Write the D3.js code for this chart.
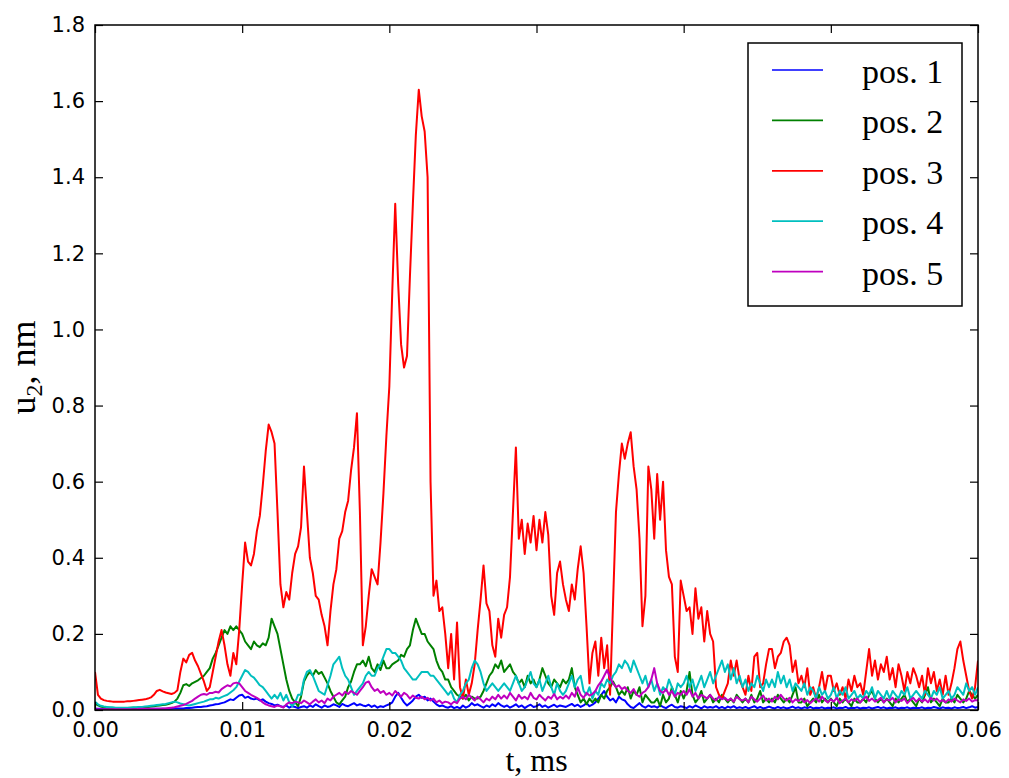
<!DOCTYPE html>
<html>
<head>
<meta charset="utf-8">
<script src="https://cdn.jsdelivr.net/npm/d3@7"></script>
<style>
  html, body { margin: 0; padding: 0; background: #fff; }
  svg { display: block; }
</style>
</head>
<body>
<svg id="chart" width="1009" height="778"></svg>
<script>
// sampling interval of the time axis (ms) – each series value i is at t = i * tStep
const tStep = 0.0002;
const xTicks = [0.00, 0.01, 0.02, 0.03, 0.04, 0.05, 0.06];
const yTicks = [0.0, 0.2, 0.4, 0.6, 0.8, 1.0, 1.2, 1.4, 1.6, 1.8];
const seriesNames = ["pos. 1", "pos. 2", "pos. 3", "pos. 4", "pos. 5"];
const seriesColors = ["#0000ff", "#008000", "#ff0000", "#00bfbf", "#bf00bf"];

const pos1 = [
0.003,0.003,0.003,0.003,0.003,0.003,0.003,0.003,0.003,0.003,
0.003,0.003,0.003,0.003,0.003,0.003,0.003,0.003,0.003,0.003,
0.003,0.003,0.003,0.003,0.003,0.003,0.003,0.004,0.004,0.004,
0.004,0.005,0.005,0.006,0.007,0.008,0.008,0.009,0.010,0.012,
0.013,0.015,0.016,0.018,0.020,0.024,0.028,0.026,0.032,0.038,
0.040,0.032,0.035,0.030,0.028,0.030,0.025,0.028,0.022,0.018,
0.016,0.012,0.014,0.010,0.008,0.012,0.006,0.010,0.008,0.005,
0.008,0.010,0.006,0.012,0.008,0.015,0.010,0.006,0.012,0.008,
0.010,0.015,0.012,0.008,0.016,0.012,0.010,0.014,0.018,0.012,
0.015,0.012,0.010,0.014,0.008,0.012,0.006,0.010,0.008,0.012,
0.015,0.020,0.035,0.045,0.032,0.020,0.012,0.018,0.025,0.035,
0.040,0.032,0.035,0.025,0.030,0.022,0.015,0.010,0.012,0.008,
0.006,0.010,0.005,0.008,0.004,0.012,0.006,0.010,0.018,0.012,
0.015,0.010,0.006,0.012,0.008,0.015,0.010,0.018,0.012,0.008,
0.012,0.006,0.010,0.015,0.008,0.012,0.005,0.010,0.014,0.008,
0.010,0.015,0.008,0.012,0.006,0.010,0.014,0.008,0.012,0.010,
0.008,0.012,0.016,0.010,0.014,0.008,0.012,0.018,0.010,0.014,
0.020,0.030,0.040,0.050,0.035,0.025,0.030,0.020,0.035,0.028,
0.025,0.015,0.008,0.005,0.012,0.018,0.010,0.006,0.012,0.008,
0.010,0.006,0.012,0.008,0.005,0.010,0.014,0.008,0.006,0.010,
0.008,0.005,0.010,0.006,0.012,0.008,0.004,0.010,0.006,0.008,
0.006,0.010,0.005,0.008,0.004,0.009,0.006,0.010,0.005,0.007,
0.005,0.008,0.004,0.007,0.010,0.005,0.008,0.004,0.006,0.009,
0.006,0.004,0.008,0.005,0.007,0.004,0.006,0.009,0.005,0.007,
0.004,0.007,0.005,0.008,0.004,0.006,0.005,0.007,0.004,0.006,
0.005,0.007,0.004,0.006,0.005,0.008,0.004,0.006,0.005,0.007,
0.004,0.006,0.005,0.007,0.004,0.006,0.008,0.005,0.007,0.004,
0.006,0.005,0.007,0.004,0.006,0.005,0.007,0.004,0.006,0.005,
0.005,0.007,0.004,0.006,0.005,0.008,0.006,0.004,0.007,0.005,
0.006,0.004,0.007,0.005,0.006,0.008,0.005,0.007,0.010,0.006,
0.008];

const pos2 = [
0.018,0.012,0.009,0.007,0.006,0.006,0.005,0.005,0.005,0.005,
0.005,0.005,0.006,0.006,0.006,0.007,0.007,0.008,0.008,0.009,
0.010,0.011,0.012,0.013,0.014,0.016,0.018,0.022,0.030,0.045,
0.065,0.068,0.063,0.070,0.074,0.078,0.084,0.090,0.100,0.110,
0.135,0.150,0.170,0.190,0.210,0.200,0.220,0.210,0.220,0.210,
0.200,0.180,0.170,0.160,0.180,0.170,0.165,0.175,0.170,0.190,
0.240,0.220,0.200,0.160,0.120,0.080,0.050,0.030,0.020,0.010,
0.035,0.075,0.090,0.100,0.090,0.105,0.095,0.100,0.085,0.070,
0.050,0.035,0.020,0.015,0.025,0.035,0.060,0.075,0.100,0.120,
0.120,0.130,0.115,0.140,0.110,0.100,0.120,0.105,0.130,0.110,
0.110,0.120,0.125,0.130,0.145,0.140,0.160,0.170,0.210,0.240,
0.220,0.200,0.200,0.180,0.170,0.160,0.130,0.110,0.100,0.080,
0.080,0.060,0.050,0.040,0.035,0.030,0.040,0.025,0.035,0.030,
0.030,0.035,0.050,0.070,0.090,0.100,0.120,0.110,0.130,0.100,
0.110,0.120,0.100,0.090,0.070,0.080,0.060,0.090,0.070,0.080,
0.060,0.080,0.110,0.090,0.070,0.060,0.080,0.070,0.060,0.080,
0.070,0.080,0.110,0.060,0.040,0.020,0.030,0.015,0.030,0.020,
0.030,0.020,0.040,0.030,0.050,0.060,0.075,0.060,0.040,0.050,
0.040,0.060,0.030,0.050,0.040,0.060,0.020,0.040,0.030,0.020,
0.020,0.030,0.010,0.040,0.020,0.030,0.060,0.040,0.020,0.050,
0.030,0.050,0.100,0.040,0.020,0.030,0.050,0.020,0.030,0.040,
0.020,0.030,0.020,0.040,0.030,0.020,0.030,0.020,0.040,0.030,
0.020,0.030,0.020,0.040,0.020,0.030,0.050,0.020,0.030,0.020,
0.030,0.020,0.040,0.030,0.020,0.030,0.020,0.040,0.060,0.020,
0.020,0.030,0.010,0.020,0.030,0.020,0.040,0.020,0.030,0.020,
0.030,0.020,0.010,0.030,0.020,0.030,0.020,0.010,0.030,0.020,
0.020,0.030,0.020,0.040,0.050,0.030,0.020,0.030,0.020,0.030,
0.020,0.010,0.030,0.020,0.030,0.040,0.020,0.030,0.020,0.010,
0.030,0.020,0.040,0.060,0.020,0.030,0.020,0.010,0.030,0.020,
0.020,0.030,0.020,0.040,0.030,0.020,0.030,0.050,0.040,0.030,
0.040];

const pos3 = [
0.100,0.040,0.030,0.026,0.024,0.023,0.022,0.022,0.022,0.022,
0.022,0.023,0.023,0.024,0.025,0.026,0.027,0.028,0.030,0.033,
0.040,0.050,0.053,0.049,0.046,0.044,0.042,0.045,0.052,0.100,
0.135,0.125,0.145,0.150,0.130,0.115,0.095,0.075,0.050,0.060,
0.100,0.140,0.180,0.210,0.170,0.120,0.090,0.150,0.120,0.210,
0.330,0.440,0.390,0.380,0.410,0.470,0.510,0.590,0.680,0.750,
0.730,0.700,0.520,0.330,0.270,0.310,0.290,0.360,0.410,0.430,
0.480,0.640,0.520,0.400,0.360,0.300,0.290,0.250,0.220,0.170,
0.260,0.330,0.370,0.450,0.470,0.520,0.550,0.630,0.690,0.780,
0.520,0.170,0.220,0.300,0.370,0.350,0.330,0.440,0.570,0.720,
0.850,1.100,1.330,1.120,0.960,0.900,0.930,1.140,1.330,1.510,
1.630,1.560,1.520,1.400,0.600,0.300,0.340,0.260,0.270,0.200,
0.110,0.200,0.080,0.230,0.060,0.030,0.080,0.040,0.070,0.120,
0.210,0.290,0.380,0.280,0.260,0.170,0.140,0.240,0.190,0.250,
0.270,0.350,0.520,0.690,0.450,0.500,0.410,0.490,0.440,0.510,
0.420,0.500,0.440,0.520,0.460,0.300,0.250,0.360,0.390,0.330,
0.290,0.260,0.330,0.290,0.370,0.430,0.360,0.220,0.070,0.150,
0.180,0.090,0.190,0.110,0.170,0.040,0.280,0.520,0.620,0.700,
0.660,0.700,0.730,0.640,0.580,0.450,0.220,0.300,0.640,0.580,
0.450,0.620,0.500,0.600,0.420,0.350,0.330,0.140,0.100,0.340,
0.300,0.260,0.270,0.200,0.320,0.240,0.270,0.180,0.260,0.200,
0.180,0.060,0.040,0.030,0.050,0.070,0.130,0.090,0.130,0.080,
0.060,0.040,0.090,0.050,0.140,0.150,0.060,0.070,0.120,0.160,
0.160,0.110,0.140,0.150,0.180,0.190,0.170,0.100,0.130,0.070,
0.090,0.060,0.110,0.040,0.060,0.030,0.060,0.100,0.050,0.090,
0.090,0.050,0.070,0.040,0.060,0.030,0.080,0.050,0.090,0.060,
0.070,0.040,0.100,0.160,0.090,0.130,0.080,0.120,0.100,0.140,
0.080,0.110,0.060,0.120,0.090,0.050,0.100,0.070,0.110,0.090,
0.060,0.090,0.040,0.110,0.070,0.100,0.050,0.080,0.040,0.090,
0.040,0.070,0.110,0.160,0.180,0.130,0.090,0.050,0.030,0.060,
0.130];

const pos4 = [
0.022,0.015,0.011,0.009,0.008,0.007,0.007,0.006,0.006,0.006,
0.006,0.006,0.006,0.007,0.007,0.008,0.008,0.009,0.010,0.011,
0.012,0.013,0.014,0.015,0.016,0.018,0.020,0.022,0.020,0.017,
0.015,0.013,0.012,0.014,0.016,0.018,0.020,0.022,0.025,0.028,
0.028,0.032,0.030,0.034,0.037,0.040,0.046,0.052,0.060,0.075,
0.090,0.105,0.100,0.090,0.085,0.075,0.065,0.060,0.050,0.040,
0.030,0.040,0.030,0.045,0.025,0.040,0.020,0.010,0.020,0.040,
0.040,0.080,0.100,0.105,0.090,0.070,0.050,0.045,0.040,0.065,
0.090,0.120,0.130,0.140,0.110,0.090,0.080,0.060,0.040,0.050,
0.060,0.070,0.090,0.100,0.090,0.090,0.110,0.120,0.140,0.160,
0.160,0.150,0.150,0.140,0.130,0.110,0.100,0.090,0.080,0.080,
0.090,0.100,0.100,0.100,0.090,0.090,0.080,0.070,0.060,0.050,
0.040,0.050,0.030,0.020,0.040,0.050,0.070,0.080,0.110,0.130,
0.120,0.100,0.070,0.050,0.060,0.070,0.060,0.050,0.060,0.070,
0.060,0.050,0.070,0.090,0.070,0.050,0.060,0.080,0.100,0.070,
0.060,0.080,0.050,0.070,0.090,0.060,0.040,0.070,0.050,0.040,
0.050,0.070,0.090,0.060,0.080,0.090,0.050,0.040,0.060,0.030,
0.050,0.040,0.070,0.060,0.080,0.070,0.090,0.100,0.120,0.110,
0.130,0.120,0.100,0.130,0.110,0.090,0.070,0.090,0.060,0.080,
0.050,0.070,0.040,0.060,0.050,0.080,0.060,0.040,0.070,0.060,
0.070,0.090,0.060,0.080,0.050,0.070,0.090,0.060,0.080,0.100,
0.070,0.090,0.110,0.130,0.100,0.120,0.080,0.110,0.070,0.090,
0.060,0.080,0.050,0.070,0.060,0.090,0.070,0.050,0.080,0.060,
0.080,0.060,0.100,0.070,0.090,0.060,0.080,0.050,0.070,0.060,
0.050,0.070,0.040,0.060,0.050,0.030,0.060,0.040,0.050,0.030,
0.040,0.060,0.030,0.050,0.040,0.060,0.030,0.040,0.050,0.030,
0.040,0.030,0.050,0.040,0.060,0.030,0.050,0.040,0.030,0.050,
0.030,0.050,0.040,0.030,0.050,0.040,0.060,0.030,0.040,0.050,
0.040,0.030,0.050,0.040,0.030,0.050,0.040,0.060,0.030,0.040,
0.050,0.030,0.040,0.060,0.050,0.040,0.070,0.050,0.060,0.040,
0.060];

const pos5 = [
0.002,0.002,0.002,0.002,0.002,0.002,0.002,0.002,0.002,0.002,
0.002,0.002,0.002,0.002,0.002,0.003,0.003,0.003,0.003,0.003,
0.003,0.003,0.003,0.004,0.004,0.005,0.006,0.007,0.009,0.011,
0.013,0.016,0.020,0.024,0.030,0.035,0.040,0.042,0.040,0.045,
0.045,0.048,0.046,0.055,0.060,0.065,0.062,0.070,0.072,0.070,
0.060,0.050,0.045,0.040,0.036,0.032,0.027,0.020,0.015,0.012,
0.010,0.008,0.012,0.010,0.006,0.015,0.020,0.018,0.022,0.020,
0.018,0.025,0.020,0.015,0.022,0.028,0.020,0.025,0.018,0.030,
0.025,0.035,0.040,0.045,0.038,0.048,0.042,0.050,0.045,0.040,
0.050,0.060,0.072,0.075,0.060,0.050,0.055,0.045,0.050,0.040,
0.045,0.038,0.050,0.042,0.035,0.045,0.040,0.030,0.038,0.032,
0.030,0.035,0.028,0.032,0.025,0.030,0.020,0.025,0.018,0.022,
0.020,0.015,0.022,0.018,0.030,0.035,0.028,0.040,0.032,0.025,
0.035,0.028,0.020,0.030,0.025,0.035,0.028,0.040,0.030,0.038,
0.030,0.045,0.035,0.025,0.040,0.030,0.035,0.028,0.045,0.032,
0.028,0.040,0.032,0.025,0.035,0.030,0.042,0.028,0.035,0.030,
0.038,0.030,0.045,0.035,0.060,0.040,0.032,0.045,0.038,0.042,
0.050,0.065,0.075,0.090,0.105,0.085,0.070,0.060,0.065,0.055,
0.060,0.050,0.045,0.055,0.040,0.035,0.045,0.050,0.060,0.080,
0.110,0.070,0.050,0.045,0.055,0.040,0.050,0.035,0.045,0.040,
0.050,0.040,0.055,0.035,0.045,0.030,0.040,0.035,0.030,0.040,
0.030,0.025,0.035,0.028,0.032,0.025,0.030,0.022,0.035,0.028,
0.025,0.030,0.020,0.035,0.028,0.022,0.030,0.038,0.025,0.030,
0.022,0.035,0.028,0.040,0.030,0.025,0.032,0.020,0.028,0.024,
0.030,0.020,0.026,0.018,0.025,0.030,0.022,0.035,0.026,0.020,
0.028,0.022,0.032,0.018,0.025,0.030,0.020,0.028,0.024,0.030,
0.020,0.028,0.035,0.024,0.030,0.022,0.026,0.032,0.020,0.028,
0.025,0.032,0.020,0.028,0.024,0.030,0.018,0.026,0.032,0.022,
0.030,0.022,0.028,0.020,0.032,0.025,0.030,0.022,0.026,0.020,
0.028,0.022,0.030,0.025,0.020,0.028,0.024,0.030,0.022,0.026,
0.025];

const seriesValues = [pos1, pos2, pos3, pos4, pos5];

const svg = d3.select("#chart");
const margin = { left: 95, right: 978, top: 25, bottom: 710 };

const x = d3.scaleLinear().domain([0, 0.06]).range([margin.left, margin.right]);
const y = d3.scaleLinear().domain([0, 1.8]).range([margin.bottom, margin.top]);

svg.append("defs").append("clipPath").attr("id", "plotclip")
  .append("rect")
  .attr("x", margin.left).attr("y", margin.top)
  .attr("width", margin.right - margin.left)
  .attr("height", margin.bottom - margin.top);

const line = d3.line()
  .x((d, i) => x(i * tStep))
  .y(d => y(d));

const gLines = svg.append("g").attr("clip-path", "url(#plotclip)");
seriesValues.forEach((vals, k) => {
  gLines.append("path")
    .datum(vals)
    .attr("d", line)
    .attr("fill", "none")
    .attr("stroke", seriesColors[k])
    .attr("stroke-width", 2)
    .attr("stroke-linejoin", "round");
});

const tickFont = "'DejaVu Sans', sans-serif";
const tickSize = 21;

// bottom axis
const gx = svg.append("g").attr("transform", `translate(0,${margin.bottom})`)
  .call(d3.axisBottom(x).tickValues(xTicks).tickFormat(d3.format(".2f"))
    .tickSizeInner(-8).tickSizeOuter(0).tickPadding(12));
// left axis
const gy = svg.append("g").attr("transform", `translate(${margin.left},0)`)
  .call(d3.axisLeft(y).tickValues(yTicks).tickFormat(d3.format(".1f"))
    .tickSizeInner(-8).tickSizeOuter(0).tickPadding(10));
// top axis (ticks only)
const gt = svg.append("g").attr("transform", `translate(0,${margin.top})`)
  .call(d3.axisTop(x).tickValues(xTicks).tickFormat("")
    .tickSizeInner(-8).tickSizeOuter(0));
// right axis (ticks only)
const gr = svg.append("g").attr("transform", `translate(${margin.right},0)`)
  .call(d3.axisRight(y).tickValues(yTicks).tickFormat("")
    .tickSizeInner(-8).tickSizeOuter(0));

[gx, gy, gt, gr].forEach(g => {
  g.select(".domain").remove();
  g.selectAll(".tick line").attr("stroke", "#000").attr("stroke-width", 1.2);
  g.selectAll(".tick text").attr("font-family", tickFont).attr("font-size", tickSize).attr("fill", "#000");
});

// frame
svg.append("rect")
  .attr("x", margin.left).attr("y", margin.top)
  .attr("width", margin.right - margin.left)
  .attr("height", margin.bottom - margin.top)
  .attr("fill", "none").attr("stroke", "#000").attr("stroke-width", 1.5);

const serif = "'Liberation Serif', 'Times New Roman', serif";

// x label
svg.append("text")
  .attr("x", (margin.left + margin.right) / 2)
  .attr("y", 771)
  .attr("text-anchor", "middle")
  .attr("font-family", serif).attr("font-size", 32)
  .text("t, ms");

// y label with subscript
const ylab = svg.append("text")
  .attr("transform", `translate(35,${(margin.top + margin.bottom) / 2}) rotate(-90)`)
  .attr("text-anchor", "middle")
  .attr("font-family", serif).attr("font-size", 36);
ylab.append("tspan").text("u");
ylab.append("tspan").attr("font-size", 24).attr("dy", 7).text("2");
ylab.append("tspan").attr("dy", -7).text(", nm");

// legend
const lg = svg.append("g");
lg.append("rect")
  .attr("x", 748).attr("y", 43).attr("width", 214).attr("height", 263)
  .attr("fill", "#fff").attr("stroke", "#000").attr("stroke-width", 1.5);
seriesNames.forEach((name, k) => {
  const yy = 70 + k * 50.4;
  lg.append("line")
    .attr("x1", 772).attr("x2", 823).attr("y1", yy).attr("y2", yy)
    .attr("stroke", seriesColors[k]).attr("stroke-width", 1.7);
  lg.append("text")
    .attr("x", 862).attr("y", yy + 13)
    .attr("font-family", serif).attr("font-size", 34)
    .text(name);
});
</script>
</body>
</html>
